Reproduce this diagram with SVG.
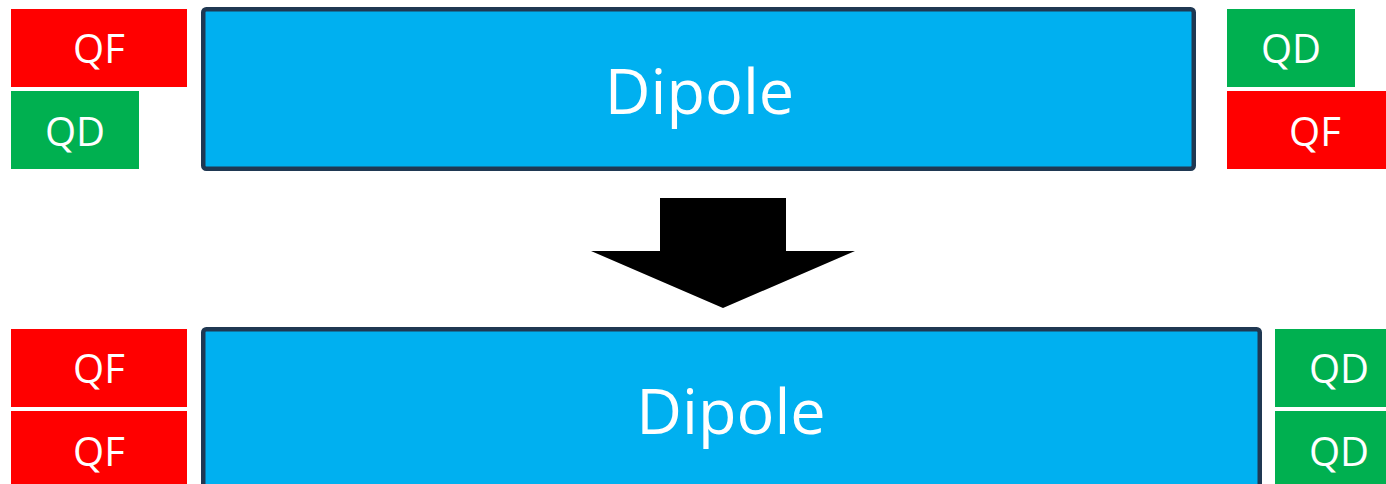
<svg xmlns="http://www.w3.org/2000/svg" width="1386" height="484" viewBox="0 0 1386 484">
<style>
.qf{fill:#FF0000}
.qd{fill:#00B050}
.dip{fill:#00B0F0;stroke:#1F3852;stroke-width:4.5}
.lb{font-family:"Open Sans","Noto Sans",sans-serif;font-size:40px;fill:#FFFFFF;text-anchor:middle}
.dl{font-family:"Open Sans","Noto Sans",sans-serif;font-size:63px;fill:#FFFFFF;text-anchor:middle}
</style>
<rect width="1386" height="484" fill="#FFFFFF"/>
<g id="top-qf-left"><rect class="qf" x="11" y="9" width="176" height="78"/><text class="lb" x="99" y="63">QF</text></g>
<g id="top-qd-left"><rect class="qd" x="11" y="91" width="128" height="78"/><text class="lb" x="75" y="146">QD</text></g>
<g id="top-dipole"><rect class="dip" x="203.25" y="9.25" width="990.5" height="159.5" rx="3"/><text class="dl" x="699.5" y="114">Dipole</text></g>
<g id="top-qd-right"><rect class="qd" x="1227" y="9" width="128" height="78"/><text class="lb" x="1291" y="63">QD</text></g>
<g id="top-qf-right"><rect class="qf" x="1227" y="91" width="159" height="78"/><text class="lb" x="1315" y="146">QF</text></g>
<g id="connectors"><polygon points="660,198 786,198 786,251 855,251 723,308 591,251 660,251" fill="#000000"/></g>
<g id="bot-qf-1"><rect class="qf" x="11" y="329" width="176" height="78"/><text class="lb" x="99" y="383">QF</text></g>
<g id="bot-qf-2"><rect class="qf" x="11" y="411" width="176" height="78"/><text class="lb" x="99" y="466">QF</text></g>
<g id="bot-dipole"><rect class="dip" x="203.25" y="329.25" width="1056.5" height="200" rx="3"/><text class="dl" x="731" y="434">Dipole</text></g>
<g id="bot-qd-1"><rect class="qd" x="1275" y="329" width="111" height="78"/><text class="lb" x="1339" y="383">QD</text></g>
<g id="bot-qd-2"><rect class="qd" x="1275" y="411" width="111" height="78"/><text class="lb" x="1339" y="466">QD</text></g>
</svg>
